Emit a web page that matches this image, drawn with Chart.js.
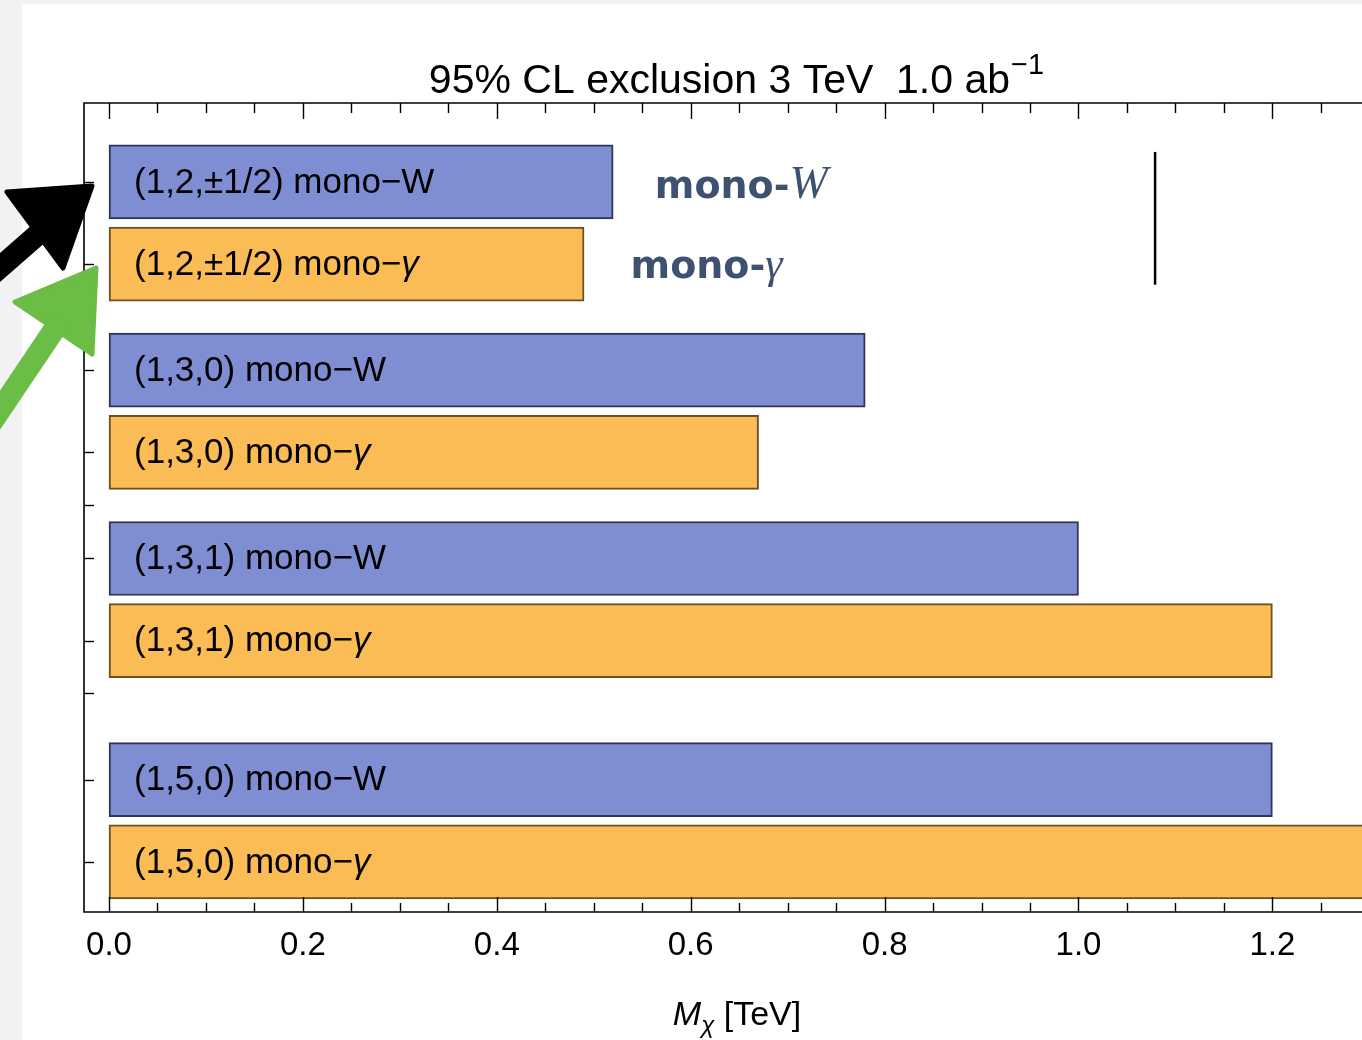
<!DOCTYPE html>
<html>
<head>
<meta charset="utf-8">
<script src="https://cdn.jsdelivr.net/npm/chart.js@4.4.1/dist/chart.umd.min.js"></script>
<style>
  html, body { margin: 0; padding: 0; overflow: hidden; background: #ffffff; }
  canvas { display: block; }
</style>
</head>
<body>
<canvas id="c" width="1420" height="1040"></canvas>
<script>
// Models (multiplet labels) and the 95% CL mass reach in TeV for each channel
const categories = ['(1,2,\u00b11/2)', '(1,3,0)', '(1,3,1)', '(1,5,0)'];
const monoW = [0.52, 0.78, 1.00, 1.20];
const monoGamma = [0.49, 0.67, 1.20, 1.40];
const xTickLabels = ['0.0', '0.2', '0.4', '0.6', '0.8', '1.0', '1.2'];
const channelNames = ['mono\u2212W', 'mono\u2212\u03b3'];

// Row layout along the vertical axis (in bar-pitch units)
const PAIR_STEP = 1;
const GROUP_GAPS = [1.29, 1.29, 1.69];
const SEPARATOR_OFFSET = 0.64;
const rowW = [], rowG = [], separators = [];
(function () {
  let p = 0;
  for (let i = 0; i < categories.length; i++) {
    rowW.push(p);
    rowG.push(p + PAIR_STEP);
    if (i < GROUP_GAPS.length) {
      separators.push(p + PAIR_STEP + SEPARATOR_OFFSET);
      p += PAIR_STEP + GROUP_GAPS[i];
    }
  }
})();

const FONT = '"Liberation Sans", Arial, Helvetica, sans-serif';
const BLUE = '#7f8dd3', BLUE_EDGE = '#2f3558';
const ORANGE = '#fbbb55', ORANGE_EDGE = '#6a5024';

const frameAndDecor = {
  id: 'frameAndDecor',
  beforeDraw(chart) {
    const ctx = chart.ctx;
    ctx.save();
    ctx.fillStyle = '#f2f2f4';
    ctx.fillRect(0, 0, chart.width, chart.height);
    ctx.fillStyle = '#ffffff';
    ctx.fillRect(22, 4, chart.width - 22, chart.height - 4);
    ctx.restore();
  },
  afterDatasetsDraw(chart) {
    const ctx = chart.ctx;
    const xs = chart.scales.x;
    // bar captions
    ctx.save();
    ctx.fillStyle = '#000';
    ctx.textBaseline = 'middle';
    chart.data.datasets.forEach((ds, di) => {
      const meta = chart.getDatasetMeta(di);
      meta.data.forEach((bar, i) => {
        const x0 = xs.getPixelForValue(0) + 25;
        const y0 = bar.y + 1;
        const head = categories[i] + ' mono\u2212';
        ctx.font = '35px ' + FONT;
        ctx.fillText(head, x0, y0);
        const w = ctx.measureText(head).width;
        if (di === 0) {
          ctx.fillText('W', x0 + w, y0);
        } else {
          ctx.font = 'italic 35px ' + FONT;
          ctx.fillText('\u03b3', x0 + w, y0);
        }
      });
    });
    ctx.restore();
  },
  afterDraw(chart) {
    const ctx = chart.ctx;
    const a = chart.chartArea;
    const xs = chart.scales.x, ys = chart.scales.y;
    ctx.save();
    // frame
    ctx.strokeStyle = '#000';
    ctx.lineWidth = 1.6;
    ctx.beginPath();
    ctx.moveTo(a.right, a.top);
    ctx.lineTo(a.left, a.top);
    ctx.lineTo(a.left, a.bottom);
    ctx.lineTo(a.right, a.bottom);
    ctx.stroke();
    // x ticks (bottom and top, pointing inward)
    ctx.lineWidth = 1.4;
    xs.ticks.forEach(t => {
      const major = Math.abs(t.value / 0.2 - Math.round(t.value / 0.2)) < 1e-6;
      const px = Math.round(xs.getPixelForValue(t.value)) + 0.5;
      ctx.beginPath();
      ctx.moveTo(px, a.bottom);
      ctx.lineTo(px, a.bottom - (major ? 15 : 9));
      ctx.moveTo(px, a.top);
      ctx.lineTo(px, a.top + (major ? 16 : 10));
      ctx.stroke();
    });
    // y ticks at each bar row and between model groups
    rowW.concat(rowG, separators).forEach(v => {
      const py = Math.round(ys.getPixelForValue(v)) + 0.5;
      ctx.beginPath();
      ctx.moveTo(a.left, py);
      ctx.lineTo(a.left + 10, py);
      ctx.stroke();
    });

    // title
    ctx.fillStyle = '#000';
    ctx.textBaseline = 'alphabetic';
    const t1 = '95% CL exclusion 3 TeV  1.0 ab';
    const sup = '\u22121';
    ctx.font = '41px ' + FONT;
    const w1 = ctx.measureText(t1).width;
    ctx.font = '29px ' + FONT;
    const w2 = ctx.measureText(sup).width;
    const tx = 736 - (w1 + w2) / 2;
    ctx.font = '41px ' + FONT;
    ctx.fillText(t1, tx, 93);
    ctx.font = '29px ' + FONT;
    ctx.fillText(sup, tx + w1 + 1, 74);

    // axis title  M_chi [TeV]
    const parts = [
      { s: 'M', f: 'italic 34px ' + FONT, dy: 0 },
      { s: '\u03c7', f: 'italic 24px ' + FONT, dy: 8 },
      { s: ' [TeV]', f: '34px ' + FONT, dy: 0 }
    ];
    let tot = 0;
    parts.forEach(p => { ctx.font = p.f; p.w = ctx.measureText(p.s).width; tot += p.w; });
    let cx = 737 - tot / 2;
    parts.forEach(p => { ctx.font = p.f; ctx.fillText(p.s, cx, 1025 + p.dy); cx += p.w; });

    // channel annotations
    ctx.fillStyle = '#3e5170';
    ctx.font = 'bold 38px "DejaVu Sans", sans-serif';
    let ax = xs.getPixelForValue(0.563), ay = ys.getPixelForValue(rowW[0]) + 16;
    ctx.fillText('mono-', ax, ay);
    let mw = ctx.measureText('mono-').width;
    ctx.font = 'italic 46px "Liberation Serif", "DejaVu Serif", serif';
    ctx.fillText('W', ax + mw, ay);
    ax = xs.getPixelForValue(0.538); ay = ys.getPixelForValue(rowG[0]) + 14;
    ctx.font = 'bold 38px "DejaVu Sans", sans-serif';
    ctx.fillText('mono-', ax, ay);
    mw = ctx.measureText('mono-').width;
    ctx.font = 'italic 44px "Liberation Serif", "DejaVu Serif", serif';
    ctx.fillText('\u03b3', ax + mw, ay);

    // vertical marker line beside the annotations
    ctx.strokeStyle = '#000';
    ctx.lineWidth = 2.5;
    const lx = xs.getPixelForValue(1.079);
    ctx.beginPath();
    ctx.moveTo(lx, ys.getPixelForValue(-0.365));
    ctx.lineTo(lx, ys.getPixelForValue(1.25));
    ctx.stroke();

    // hand-drawn pointer arrows at the left margin
    function arrow(color, head, shaft, sw) {
      ctx.fillStyle = color;
      ctx.strokeStyle = color;
      ctx.lineJoin = 'round';
      ctx.beginPath();
      ctx.moveTo(head[0][0], head[0][1]);
      ctx.lineTo(head[1][0], head[1][1]);
      ctx.lineTo(head[2][0], head[2][1]);
      ctx.closePath();
      ctx.fill();
      ctx.lineWidth = 5;
      ctx.stroke();
      ctx.lineWidth = sw;
      ctx.lineCap = 'butt';
      ctx.beginPath();
      ctx.moveTo(shaft[0][0], shaft[0][1]);
      ctx.lineTo(shaft[1][0], shaft[1][1]);
      ctx.stroke();
    }
    arrow('#000000', [[92, 186], [7, 192], [63, 268]], [[-12, 278], [52, 222]], 22);
    arrow('#6cbd45', [[96, 268], [15, 302], [92, 354]], [[62, 318], [-10, 425]], 22);
    ctx.restore();
  }
};

const chart = new Chart(document.getElementById('c'), {
  type: 'bar',
  data: {
    datasets: [
      {
        label: channelNames[0],
        data: monoW.map((v, i) => ({ x: [0, v], y: rowW[i] })),
        backgroundColor: BLUE,
        borderColor: BLUE_EDGE,
        borderWidth: 2,
        borderSkipped: false
      },
      {
        label: channelNames[1],
        data: monoGamma.map((v, i) => ({ x: [0, v], y: rowG[i] })),
        backgroundColor: ORANGE,
        borderColor: ORANGE_EDGE,
        borderWidth: 2,
        borderSkipped: false
      }
    ]
  },
  options: {
    indexAxis: 'y',
    responsive: false,
    animation: false,
    devicePixelRatio: 1,
    grouped: false,
    barThickness: 74,
    layout: { padding: { top: 103, left: 84, right: 40, bottom: 0 } },
    plugins: { legend: { display: false }, title: { display: false }, tooltip: { enabled: false } },
    scales: {
      y: {
        type: 'linear',
        reverse: true,
        offset: false,
        min: -0.96,
        max: 8.88,
        display: false
      },
      x: {
        type: 'linear',
        min: -0.0258,
        max: 1.311,
        grid: { display: false, drawTicks: false },
        border: { display: false },
        afterBuildTicks(scale) {
          const t = [];
          for (let k = 0; k * 0.05 <= scale.max + 1e-9; k++) t.push({ value: +(k * 0.05).toFixed(2) });
          scale.ticks = t;
        },
        afterFit(scale) { scale.height = 128; },
        ticks: {
          autoSkip: false,
          maxRotation: 0,
          padding: 14,
          color: '#000',
          font: { family: FONT, size: 33 },
          callback(value) {
            const r = value / 0.2;
            if (Math.abs(r - Math.round(r)) < 1e-6) return xTickLabels[Math.round(r)] || '';
            return '';
          }
        }
      }
    }
  },
  plugins: [frameAndDecor]
});
</script>
</body>
</html>
